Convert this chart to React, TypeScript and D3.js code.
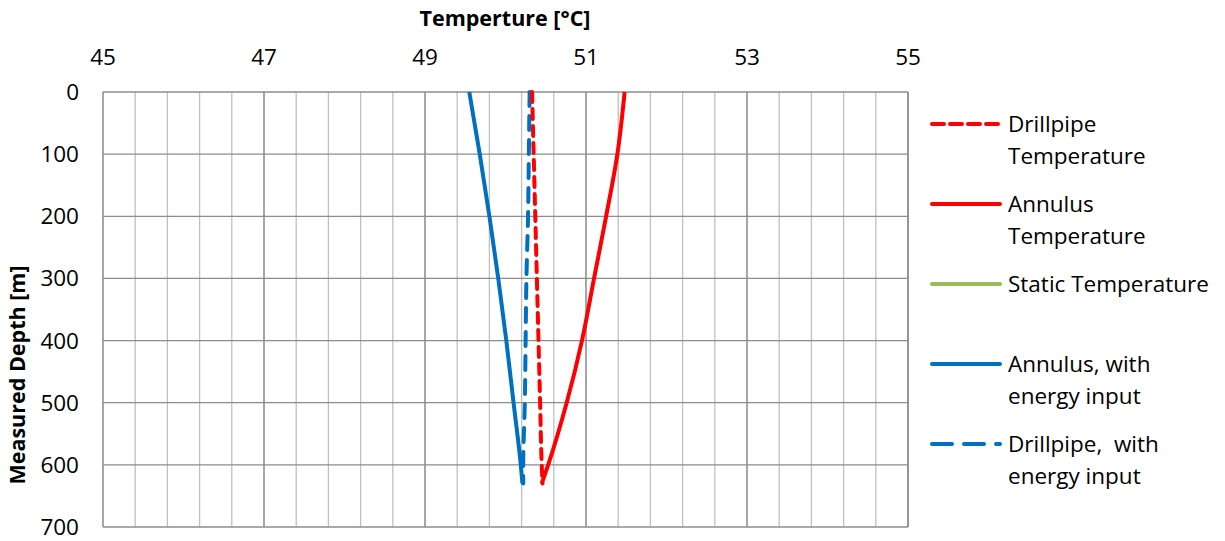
import React from "react";
import * as d3 from "d3";

// Depth profiles (temperature °C vs measured depth m)
const depths = [0, 100, 200, 300, 400, 500, 600, 630];
const drillpipeTemp = [50.33, 50.35, 50.37, 50.39, 50.41, 50.43, 50.45, 50.46];
const annulusTemp = [51.48, 51.39, 51.25, 51.1, 50.95, 50.76, 50.53, 50.45];
const annulusEnergy = [49.55, 49.68, 49.8, 49.91, 50.01, 50.1, 50.19, 50.21];
const drillpipeEnergy = [50.3, 50.29, 50.28, 50.26, 50.25, 50.24, 50.22, 50.22];

const xTicks = [45, 47, 49, 51, 53, 55];
const yTicks = [0, 100, 200, 300, 400, 500, 600, 700];

const legendItems = [
  { lines: ["Drillpipe", "Temperature"], color: "#ff0000", dash: "12,6" },
  { lines: ["Annulus", "Temperature"], color: "#ff0000", dash: "" },
  { lines: ["Static Temperature"], color: "#9bbb59", dash: "" },
  { lines: ["Annulus, with", "energy input"], color: "#0070c0", dash: "" },
  { lines: ["Drillpipe,  with", "energy input"], color: "#0070c0", dash: "20,12" },
];

const W = 1225;
const H = 541;
const left = 103;
const right = 908;
const top = 92;
const bottom = 527;
const font = "'Open Sans', 'Noto Sans', sans-serif";
const fs = 22.5;

export default function App() {
  const x = d3.scaleLinear().domain([45, 55]).range([left, right]);
  const y = d3.scaleLinear().domain([0, 700]).range([top, bottom]);
  const minor = d3.range(45, 55.001, 0.4);

  const line = (vals: number[]) =>
    d3
      .line<number>()
      .x((v) => x(v))
      .y((_, i) => y(depths[i]))
      .curve(d3.curveMonotoneY)(vals) as string;

  const series = [
    { vals: annulusTemp, color: "#ff0000", dash: "" },
    { vals: annulusEnergy, color: "#0070c0", dash: "" },
    { vals: drillpipeEnergy, color: "#0070c0", dash: "14,10" },
    { vals: drillpipeTemp, color: "#ff0000", dash: "10,7" },
  ];

  return (
    <svg
      width={W}
      height={H}
      style={{ position: "absolute", left: 0, top: 0, background: "#fff" }}
      fontFamily={font}
    >
      {/* minor vertical grid */}
      {minor.map((v, i) => (
        <line key={"m" + i} x1={x(v)} x2={x(v)} y1={top} y2={bottom} stroke="#c0c0c0" strokeWidth={1.3} />
      ))}
      {xTicks.map((v) => (
        <line key={"M" + v} x1={x(v)} x2={x(v)} y1={top} y2={bottom} stroke="#8c8c8c" strokeWidth={1.3} />
      ))}
      {yTicks.map((v) => (
        <line key={"h" + v} x1={left} x2={right} y1={y(v)} y2={y(v)} stroke="#8c8c8c" strokeWidth={1.3} />
      ))}
      <line x1={right} x2={right} y1={top} y2={bottom} stroke="#8c8c8c" strokeWidth={1.3} />

      {/* axis labels */}
      {xTicks.map((v) => (
        <text key={"xt" + v} x={x(v)} y={65} textAnchor="middle" fontSize={fs} fill="#000">
          {v}
        </text>
      ))}
      {yTicks.map((v) => (
        <text key={"yt" + v} x={79} y={y(v) + 8} textAnchor="end" fontSize={fs} fill="#000">
          {v}
        </text>
      ))}
      <text x={505} y={26} textAnchor="middle" fontSize={21.5} fontWeight="bold" fill="#000">
        Temperture [°C]
      </text>
      <text
        transform={`translate(25, ${375}) rotate(-90)`}
        textAnchor="middle"
        fontSize={21.5}
        fontWeight="bold"
        fill="#000"
      >
        Measured Depth [m]
      </text>

      {/* series */}
      {series.map((s, i) => (
        <path
          key={"s" + i}
          d={line(s.vals)}
          fill="none"
          stroke={s.color}
          strokeWidth={4}
          strokeDasharray={s.dash || undefined}
          strokeLinecap={s.dash ? "round" : "butt"}
        />
      ))}

      {/* legend */}
      {legendItems.map((it, i) => {
        const ly = 124 + i * 80;
        return (
          <g key={"lg" + i}>
            <line
              x1={932}
              x2={1000}
              y1={ly}
              y2={ly}
              stroke={it.color}
              strokeWidth={4}
              strokeDasharray={it.dash || undefined}
              strokeLinecap="round"
            />
            {it.lines.map((t, j) => (
              <text key={j} x={1008} y={ly + 8 + j * 32} fontSize={fs} fill="#000" style={{ whiteSpace: "pre" }}>
                {t}
              </text>
            ))}
          </g>
        );
      })}
    </svg>
  );
}
